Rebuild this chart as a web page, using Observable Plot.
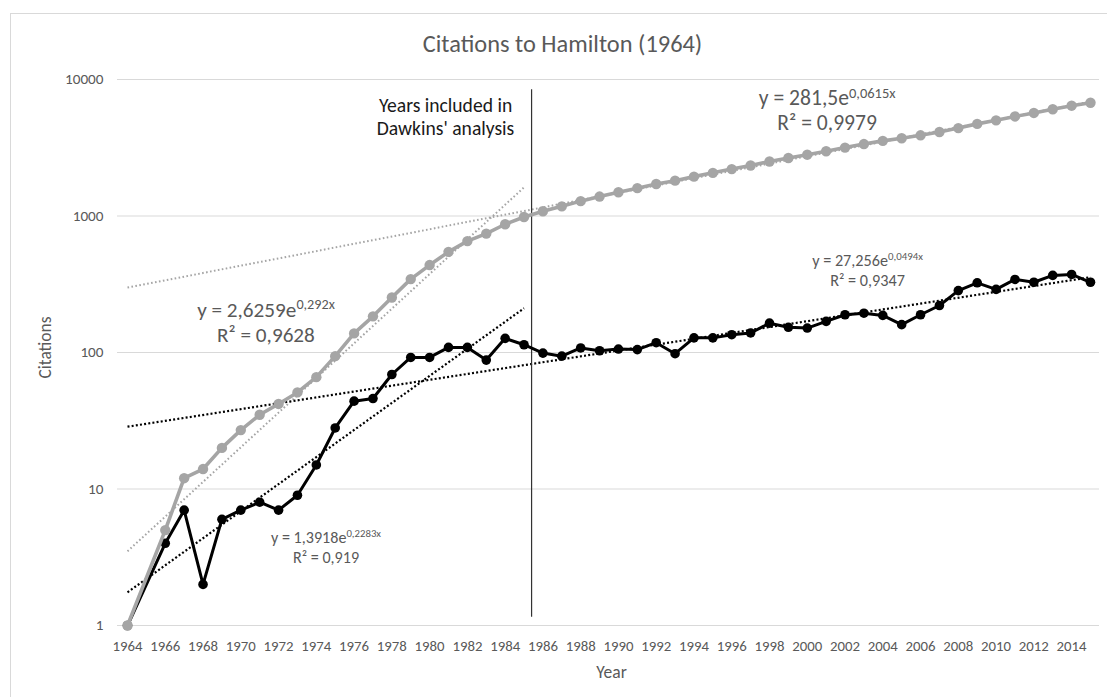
<!DOCTYPE html>
<html><head><meta charset="utf-8">
<script src="https://cdn.jsdelivr.net/npm/d3@7"></script>
<script src="https://cdn.jsdelivr.net/npm/@observablehq/plot@0.6"></script>
<style>
body{margin:0;background:#fff;}
#frame{position:absolute;left:10px;top:13px;width:1120px;height:720px;border:1px solid #d9d9d9;}
#chart{position:absolute;left:0;top:0;}
</style></head><body>
<div id="frame"></div><div id="chart"></div>
<script>
const FONT = "Carlito, Calibri, Lato, sans-serif";

// Data (1965 has no point in either series)
const years = [1964,1966,1967,1968,1969,1970,1971,1972,1973,1974,1975,1976,1977,1978,1979,1980,1981,1982,1983,1984,1985,
  1986,1987,1988,1989,1990,1991,1992,1993,1994,1995,1996,1997,1998,1999,2000,2001,2002,2003,2004,2005,2006,2007,2008,2009,2010,2011,2012,2013,2014,2015];
const annualCitations = [1,4,7,2,6,7,8,7,9,15,28,44,46,69,92,92,109,109,88,127,114,
  99,94,108,103,106,105,118,98,128,128,135,139,164,153,151,169,189,194,187,160,189,221,284,324,290,343,327,367,373,327];
const cumulativeCitations = [1,5,12,14,20,27,35,42,51,66,94,138,184,253,345,437,546,655,743,870,984,
  1083,1177,1285,1388,1494,1599,1717,1815,1943,2071,2206,2345,2509,2662,2813,2982,3171,3365,3552,3712,3901,4122,4406,4730,5020,5363,5690,6057,6430,6757];

// Dotted exponential trend lines (endpoints)
const trendSeries = ["cumulative","annual","cumulative","annual"];
const trendYear1  = [1964,1964,1964,1964];
const trendYear2  = [1985,1985,2015,2015];
const trendValue1 = [3.5,1.75,299,28.6];
const trendValue2 = [1620,211,6890,356];

// Trend equations
const eqBase = ["y = 2,6259e","y = 1,3918e","y = 281,5e","y = 27,256e"];
const eqSup  = ["0,292x","0,2283x","0,0615x","0,0494x"];
const eqR2   = ["R² = 0,9628","R² = 0,919","R² = 0,9979","R² = 0,9347"];
const eqYear = [1971.36,1974.54,2001.08,2003.22];
const eqValue= [182,3.99,6450,426.6];

const noteLines = ["Years included in","Dawkins' analysis"];
const noteYear = 1980.87, noteValue = 5757;

const cutoffYear = 1985.4;
const yTicks = [1,10,100,1000,10000];
const xTicks = d3.range(1964,2015,2);

const rows = years.map((yr,i)=>({year:yr, annual:annualCitations[i], cumulative:cumulativeCitations[i]}));
const trends = trendSeries.map((s,i)=>({series:s, x1:trendYear1[i], x2:trendYear2[i], y1:trendValue1[i], y2:trendValue2[i]}));
const GREY = "#a5a5a5";

const plot = Plot.plot({
  width:1107, height:697,
  marginTop:79, marginBottom:72, marginLeft:117, marginRight:8,
  style:{fontFamily:FONT, background:"transparent"},
  x:{domain:[1963.47,2015.477], label:null},
  y:{type:"log", domain:[1,10000], label:null},
  marks:[
    Plot.gridY(yTicks,{stroke:"#d9d9d9", strokeOpacity:1, strokeWidth:1}),
    Plot.axisY(yTicks,{tickSize:0, tickPadding:14, fontSize:15.2, fill:"#595959", tickFormat:d=>String(d), label:null}),
    Plot.axisX(xTicks,{tickSize:0, tickPadding:15, fontSize:14.8, fill:"#595959", tickFormat:d=>String(d), label:null}),
    Plot.text(["Year"],{frameAnchor:"bottom", lineAnchor:"middle", textAnchor:"middle", dy:47, dx:3, fontSize:17.5, fill:"#595959"}),
    Plot.text(["Citations"],{frameAnchor:"left", lineAnchor:"middle", textAnchor:"middle", dx:-72, dy:-5, rotate:-90, fontSize:17.5, fill:"#595959"}),
    Plot.text(["Citations to Hamilton (1964)"],{frameAnchor:"top", lineAnchor:"middle", textAnchor:"middle", dy:-35, dx:-46, fontSize:24.4, fill:"#595959"}),
    Plot.link(trends.filter(d=>d.series==="cumulative"),{x1:"x1",y1:"y1",x2:"x2",y2:"y2", stroke:GREY, strokeWidth:2, strokeDasharray:"1.6 2.4"}),
    Plot.link(trends.filter(d=>d.series==="annual"),{x1:"x1",y1:"y1",x2:"x2",y2:"y2", stroke:"#000", strokeWidth:2.2, strokeDasharray:"2 2.2"}),
    Plot.ruleX([cutoffYear],{y1:1.15, y2:8400, stroke:"#333", strokeWidth:1.2}),
    Plot.line(rows,{x:"year", y:"annual", stroke:"#000", strokeWidth:3}),
    Plot.dot(rows,{x:"year", y:"annual", r:4.8, fill:"#000"}),
    Plot.line(rows,{x:"year", y:"cumulative", stroke:GREY, strokeWidth:3.6}),
    Plot.dot(rows,{x:"year", y:"cumulative", r:5.2, fill:GREY})
  ]
});
document.getElementById("chart").appendChild(plot);

// Annotations positioned through the plot's scales
const sx = plot.scale("x"), sy = plot.scale("y");
const svg = d3.select(plot);
const note = svg.append("g").attr("font-family",FONT).attr("fill","#1a1a1a").attr("text-anchor","middle").attr("font-size",19.6);
noteLines.forEach((t,i)=>note.append("text").attr("x",sx.apply(noteYear)).attr("y",sy.apply(noteValue)+i*23.3).text(t));

const eqSize = [21.2,16.1,21.6,16.2];
const eqGap = [25,20.3,25,20];
eqBase.forEach((b,i)=>{
  const px = sx.apply(eqYear[i]), py = sy.apply(eqValue[i]);
  const g = svg.append("g").attr("font-family",FONT).attr("fill","#595959").attr("text-anchor","middle");
  const t = g.append("text").attr("x",px).attr("y",py).attr("font-size",eqSize[i]);
  t.append("tspan").text(b);
  t.append("tspan").attr("font-size",eqSize[i]*0.67).attr("dy",-eqSize[i]*0.34).text(eqSup[i]);
  g.append("text").attr("x",px).attr("y",py+eqGap[i]).attr("font-size",eqSize[i]).text(eqR2[i]);
});
</script>
</body></html>
